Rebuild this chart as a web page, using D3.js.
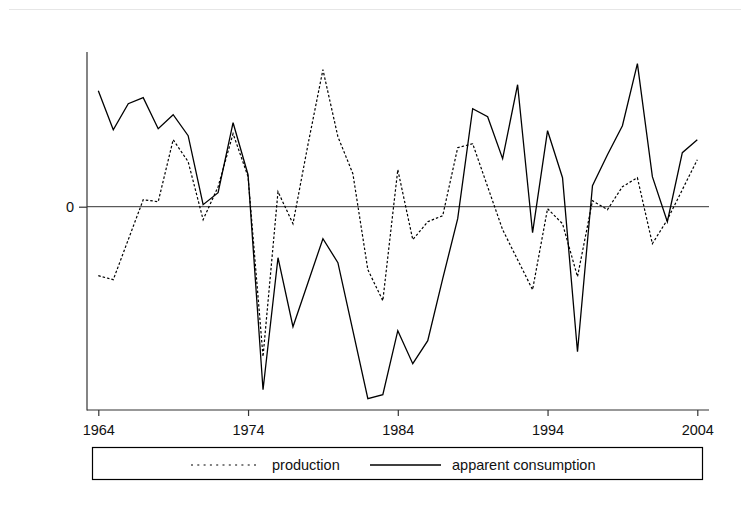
<!DOCTYPE html>
<html>
<head>
<meta charset="utf-8">
<script src="https://cdn.jsdelivr.net/npm/d3@7"></script>
<style>
  html, body { margin: 0; padding: 0; background: #fff; }
  svg { display: block; font-family: "Liberation Sans", Arial, sans-serif; }
</style>
</head>
<body>
<svg id="chart" width="741" height="522"></svg>
<script>
const years = d3.range(1964, 2005);
const production = [
  -6.9, -7.3, -3.3, 0.7, 0.5, 6.7, 4.5, -1.3, 2.0, 7.3,
   3.0, -15.0, 1.5, -1.7, 6.2, 13.7, 7.0, 3.3, -6.3, -9.4,
   3.7, -3.3, -1.5, -0.9, 5.9, 6.3, 2.0, -2.3, -5.3, -8.3,
  -0.2, -1.7, -7.0, 0.6, -0.3, 2.0, 2.9, -3.7, -1.3, 1.7,
   4.7
];
const consumption = [
  11.6, 7.7, 10.3, 10.9, 7.8, 9.2, 7.1, 0.2, 1.4, 8.4,
   3.2, -18.3, -5.1, -12.0, -7.6, -3.2, -5.6, -12.4, -19.2, -18.8,
  -12.4, -15.7, -13.4, -7.2, -1.2, 9.8, 9.0, 4.8, 12.2, -2.6,
   7.6, 2.9, -14.5, 2.1, 5.2, 8.1, 14.3, 3.0, -1.5, 5.4,
   6.7
];
const xTicks = [1964, 1974, 1984, 1994, 2004];
const yTicks = [0];
const seriesNames = ["production", "apparent consumption"];

const svg = d3.select("#chart");
const frame = { left: 87, right: 709, top: 52, bottom: 410 };

const x = d3.scaleLinear().domain([1964, 2004]).range([98.3, 697.3]);
const y = d3.scaleLinear().domain([-20.33, 15.47]).range([410, 52]);

// faint outer border line at top
svg.append("line")
  .attr("x1", 9).attr("x2", 741).attr("y1", 9.5).attr("y2", 9.5)
  .attr("stroke", "#e6e6e6").attr("stroke-width", 1);

// zero reference line
svg.append("line")
  .attr("x1", frame.left).attr("x2", frame.right)
  .attr("y1", y(0)).attr("y2", y(0))
  .attr("stroke", "#333").attr("stroke-width", 1);

// axes
const xAxis = d3.axisBottom(x).tickValues(xTicks).tickFormat(d3.format("d"))
  .tickSize(6).tickPadding(9);
const gx = svg.append("g").attr("transform", `translate(0,${frame.bottom})`).call(xAxis);
gx.select(".domain").remove();
gx.selectAll(".tick line").attr("stroke", "#333").attr("stroke-width", 1.2);
gx.selectAll(".tick text").attr("font-size", "14.5px").attr("fill", "#111")
  .attr("font-family", "Liberation Sans, Arial, sans-serif");

const yAxis = d3.axisLeft(y).tickValues(yTicks).tickFormat(d3.format("d"))
  .tickSize(8).tickPadding(5);
const gy = svg.append("g").attr("transform", `translate(${frame.left},0)`).call(yAxis);
gy.select(".domain").remove();
gy.selectAll(".tick line").attr("stroke", "#333").attr("stroke-width", 1.2);
gy.selectAll(".tick text").attr("font-size", "14.5px").attr("fill", "#111")
  .attr("font-family", "Liberation Sans, Arial, sans-serif");

svg.append("line")
  .attr("x1", frame.left).attr("x2", frame.left)
  .attr("y1", frame.top).attr("y2", frame.bottom + 0.6)
  .attr("stroke", "#333").attr("stroke-width", 1.2);
svg.append("line")
  .attr("x1", frame.left).attr("x2", frame.right)
  .attr("y1", frame.bottom).attr("y2", frame.bottom)
  .attr("stroke", "#333").attr("stroke-width", 1.2);

const line = d3.line().x((d, i) => x(years[i])).y(d => y(d));

svg.append("path").datum(production)
  .attr("d", line).attr("fill", "none")
  .attr("stroke", "#000").attr("stroke-width", 1.2)
  .attr("stroke-dasharray", "2.5,2");

svg.append("path").datum(consumption)
  .attr("d", line).attr("fill", "none")
  .attr("stroke", "#000").attr("stroke-width", 1.3)
  .attr("stroke-linejoin", "miter");

// legend
const lg = svg.append("g");
lg.append("rect")
  .attr("x", 92.5).attr("y", 447.5).attr("width", 610).attr("height", 32)
  .attr("fill", "#fff").attr("stroke", "#000").attr("stroke-width", 1.2);
const ly = 465;
lg.append("line").attr("x1", 191).attr("x2", 260).attr("y1", ly).attr("y2", ly)
  .attr("stroke", "#000").attr("stroke-width", 1.1).attr("stroke-dasharray", "2,4.3");
lg.append("text").attr("x", 272).attr("y", ly).attr("dy", "0.35em")
  .attr("font-size", "14.5px").attr("fill", "#111").text(seriesNames[0]);
lg.append("line").attr("x1", 370).attr("x2", 441).attr("y1", ly).attr("y2", ly)
  .attr("stroke", "#000").attr("stroke-width", 1.3);
lg.append("text").attr("x", 452).attr("y", ly).attr("dy", "0.35em")
  .attr("font-size", "14.5px").attr("fill", "#111").text(seriesNames[1]);
</script>
</body>
</html>
